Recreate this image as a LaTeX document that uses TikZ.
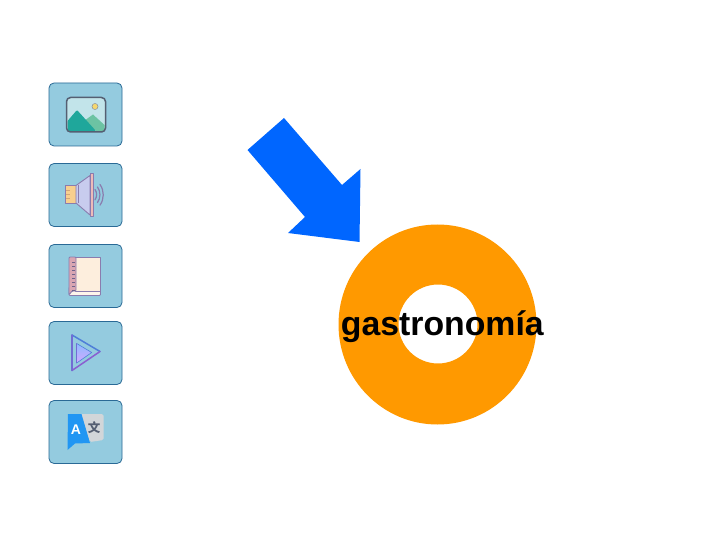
\documentclass[tikz,border=0pt]{standalone}
\usepackage{fontspec}
\setmainfont{Liberation Sans}
\newfontfamily\cjkf{Noto Sans CJK SC}
\usetikzlibrary{shadings}
\definecolor{btn}{HTML}{94CBDF}
\definecolor{btnline}{HTML}{2A6A96}
\definecolor{arrowblue}{HTML}{0066FF}
\definecolor{donut}{HTML}{FF9900}
\definecolor{iconline}{HTML}{555F72}
\definecolor{purp}{HTML}{8A7CAE}
\definecolor{skyin}{HTML}{C2E4EA}
\definecolor{mtna}{HTML}{1FA79B}
\definecolor{mtnb}{HTML}{6CC3A3}
\definecolor{sunc}{HTML}{F5D76E}
\definecolor{pagec}{HTML}{FDEEDD}
\definecolor{spinec}{HTML}{D9A6B2}
\definecolor{conec}{HTML}{C8CCEE}
\definecolor{boxc}{HTML}{F8CF8E}
\definecolor{postc}{HTML}{EDBBB8}
\definecolor{playa}{HTML}{8DBBFF}
\definecolor{playb}{HTML}{D4A8FF}
\definecolor{linea}{HTML}{4F7FD8}
\definecolor{lineb}{HTML}{8A5FD0}
\definecolor{graytr}{HTML}{D2D6D9}
\definecolor{bluetr}{HTML}{2196F3}
\tikzset{
  btnbox/.style={draw=btnline,fill=btn,rounded corners=5,line width=.8,minimum width=73,minimum height=63,inner sep=0,outer sep=0},
  ico/.style={line join=round,line cap=round}
}
\begin{document}
\begin{tikzpicture}[x=1pt,y=-1pt]
\useasboundingbox (0,0) rectangle (720,540);
\fill[white] (0,0) rectangle (720,540);
% buttons
\node[btnbox] (b1) at (85.5,114.5) {};
\node[btnbox] (b2) at (85.5,195) {};
\node[btnbox] (b3) at (85.5,276) {};
\node[btnbox] (b4) at (85.5,353) {};
\node[btnbox] (b5) at (85.5,432) {};
% picture icon
\fill[skyin,rounded corners=4] (67,98) rectangle (105,131.5);
\fill[sunc] (95,106.5) circle (3);
\draw[draw=iconline!70,line width=.5] (95,106.5) circle (3);
\fill[mtnb] (84,121) -- (93,114.5) -- (104.5,125) -- (104.5,131) -- (96,131) -- cycle;
\fill[mtna,rounded corners=1] (67.5,131) -- (67.5,121) -- (77,110) -- (96,131) -- cycle;
\draw[ico,draw=iconline,line width=1.5,rounded corners=4] (66.5,97.5) rectangle (105.5,132);
% speaker icon
\draw[ico,draw=purp,fill=boxc,line width=.9] (65.5,185.5) rectangle (76,203);
\foreach \yy in {190,194,198}{\draw[draw=brown!70,line width=.6] (66,\yy) -- (70,\yy);}
\draw[ico,draw=purp,fill=conec,line width=.9] (76,185.5) -- (90,175.5) -- (90,215) -- (76,203) -- cycle;
\draw[draw=purp,line width=.9] (78,185) -- (78,203);
\draw[ico,draw=purp,fill=postc,line width=.9] (90,173.5) rectangle (93,216.5);
\draw[ico,draw=purp,line width=1.2] (95,189.5) arc (-35:35:9);
\draw[ico,draw=purp,line width=1.2] (97.5,187) arc (-35:35:13.5);
\draw[ico,draw=purp,line width=1.2] (100,184.5) arc (-35:35:18);
% book icon
\draw[ico,draw=purp,fill=pagec!60!white,line width=.9,rounded corners=1] (69,287) rectangle (100.5,295.5);
\draw[ico,draw=purp,fill=pagec,line width=.9] (75,257) rectangle (100,291);
\draw[ico,draw=purp,fill=spinec,line width=.9,rounded corners=1] (69,257) -- (76,257) -- (76,291) -- (72,291) -- (69,295) -- cycle;
\foreach \yy in {262,266,...,290}{\draw[draw=purp!80!black,line width=.7] (72,\yy) -- (75,\yy);}
% play icon
\shade[ico,top color=playa,bottom color=playb] (76.7,343.5) -- (91.7,352.5) -- (76.7,363) -- cycle;
\draw[ico,draw=linea,line width=.6] (76.7,343.5) -- (91.7,352.5) -- (76.7,363);
\draw[ico,draw=lineb!60!linea,line width=.6] (76.7,363) -- (76.7,343.5);
\draw[ico,draw=linea,line width=1.5] (72,335) -- (100,351.5);
\draw[ico,draw=lineb,line width=1.5] (100,351.5) -- (72,370.5);
\draw[ico,draw=lineb!60!linea,line width=1.5] (72,370.5) -- (72,335);
% translate icon
\fill[ico,fill=graytr,rounded corners=1.5] (80,414) -- (103.5,414) -- (103.5,440) -- (90,442) -- cycle;
\fill[fill=bluetr] (68,414) -- (81.5,414) -- (90,443) -- (75,443.5) -- (67.5,450) -- cycle;
\node[font=\bfseries\fontsize{14}{14}\selectfont,text=white,inner sep=0] (atxt) at (76,430) {A};
\node[font=\cjkf\bfseries\fontsize{12.5}{13}\selectfont,text=iconline,inner sep=0] (wtxt) at (94,427.5) {文};
% arrow
\fill[arrowblue] (284,118) -- (342,185) -- (360.5,169) -- (359.5,242) -- (288,233) -- (305,217) -- (247.5,150) -- cycle;
% donut
\fill[donut,even odd rule] (437.5,324.5) ellipse [x radius=99,y radius=100] (438,324) circle (39.5);
\node[font=\bfseries\fontsize{33.8}{36}\selectfont,text=black,inner sep=0,anchor=base] (word) at (442.3,335) {gastronomía};
\end{tikzpicture}
\end{document}
